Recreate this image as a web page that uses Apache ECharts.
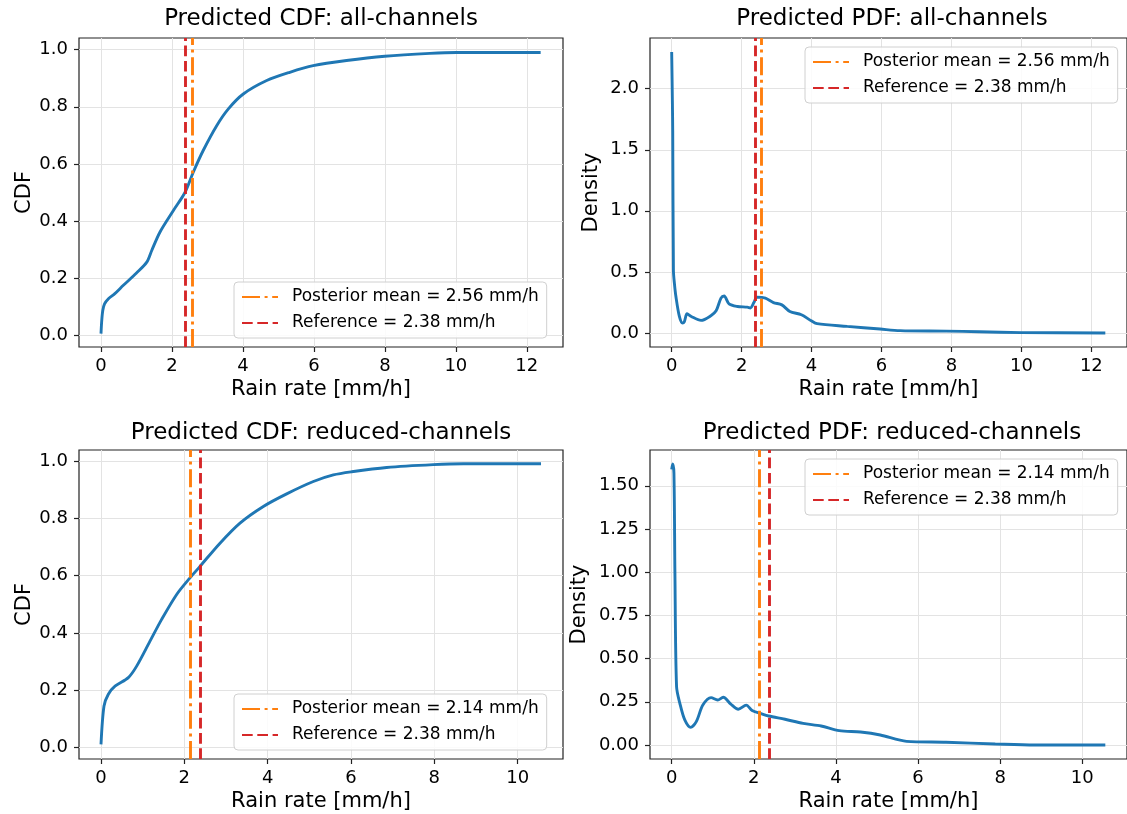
<!DOCTYPE html>
<html>
<head>
<meta charset="utf-8">
<script src="https://cdn.jsdelivr.net/npm/echarts@6/dist/echarts.min.js"></script>
<style>
  html, body { margin: 0; padding: 0; background: #fff; }
  #main { width: 1127px; height: 814px; }
</style>
</head>
<body>
<div id="main"></div>
<script>
// values (rain rate in mm/h)
const cdfAllX = [0, 0.02, 0.05, 0.1, 0.21, 0.39, 0.63, 1.0, 1.29, 1.43, 1.66, 2.04, 2.37, 2.6, 2.88, 3.26, 3.59, 4.01, 4.67, 5.32, 5.98, 6.92, 8.0, 9.27, 10.02, 12.39]
const cdfAllY = [0.006, 0.05, 0.087, 0.11, 0.128, 0.146, 0.175, 0.218, 0.256, 0.297, 0.361, 0.437, 0.501, 0.571, 0.647, 0.734, 0.793, 0.845, 0.892, 0.921, 0.944, 0.962, 0.977, 0.987, 0.99, 0.99]

const pdfAllX = [0, 0.02, 0.03, 0.05, 0.08, 0.12, 0.22, 0.31, 0.36, 0.44, 0.56, 0.84, 1.12, 1.27, 1.41, 1.5, 1.64, 1.88, 2.16, 2.25, 2.35, 2.44, 2.68, 2.91, 3.15, 3.38, 3.71, 3.99, 4.16, 5.02, 5.96, 6.53, 7.85, 8.79, 10.0, 12.4]
const pdfAllY = [2.30, 1.9, 1.65, 0.51, 0.40, 0.30, 0.135, 0.081, 0.09, 0.157, 0.135, 0.103, 0.141, 0.181, 0.285, 0.303, 0.238, 0.217, 0.211, 0.204, 0.249, 0.293, 0.285, 0.249, 0.23, 0.176, 0.149, 0.1, 0.076, 0.054, 0.032, 0.019, 0.015, 0.01, 0.003, 0.0]

const cdfRedX = [0, 0.072, 0.176, 0.336, 0.656, 0.856, 1.176, 1.456, 1.816, 2.136, 2.376, 2.856, 3.336, 3.896, 4.456, 5.096, 5.576, 6.016, 6.856, 7.976, 8.7, 10.56]
const cdfRedY = [0.011, 0.145, 0.186, 0.214, 0.244, 0.284, 0.371, 0.447, 0.534, 0.592, 0.632, 0.713, 0.783, 0.841, 0.885, 0.928, 0.951, 0.962, 0.977, 0.987, 0.99, 0.99]

const pdfRedX = [0, 0.024, 0.055, 0.079, 0.119, 0.199, 0.319, 0.463, 0.599, 0.759, 0.959, 1.12, 1.255, 1.44, 1.623, 1.815, 1.959, 2.159, 2.36, 2.76, 3.2, 3.64, 4.08, 4.6, 5.08, 5.72, 6.68, 7.88, 8.84, 10.56]
const pdfRedY = [1.595, 1.626, 1.572, 0.994, 0.337, 0.241, 0.145, 0.102, 0.135, 0.231, 0.274, 0.26, 0.276, 0.237, 0.207, 0.231, 0.199, 0.183, 0.168, 0.149, 0.125, 0.11, 0.083, 0.075, 0.058, 0.021, 0.016, 0.006, 0.0, 0.0]

const meanAll = 2.56
const meanRed = 2.14
const reference = 2.38

const titles = ['Predicted CDF: all-channels', 'Predicted PDF: all-channels', 'Predicted CDF: reduced-channels', 'Predicted PDF: reduced-channels']
const yNames = ['CDF', 'Density', 'CDF', 'Density']
const xTicksAll = [0, 2, 4, 6, 8, 10, 12]
const xTicksRed = [0, 2, 4, 6, 8, 10]
const cdfTicks = [0, 0.2, 0.4, 0.6, 0.8, 1.0]
const pdfAllTicks = [0, 0.5, 1.0, 1.5, 2.0]
const pdfRedTicks = [0, 0.25, 0.5, 0.75, 1.0, 1.25, 1.5]

const FONT = 'DejaVu Sans'
const BLUE = '#1f77b4', ORANGE = '#ff7f0e', RED = '#d62728'

function zip(xs, ys) {
    let out = []
    for (let i = 0; i < xs.length; i++) out.push([xs[i], ys[i]])
    return out
}

// panel boxes in px
const panels = [
    { left: 79, top: 38, xr: [-0.62, 13.02], yr: [-0.041, 1.041], xt: xTicksAll, yt: cdfTicks, dec: 1, gap: 44, legTop: 282, legLeft: 234 },
    { left: 650, top: 38, xr: [-0.62, 13.02], yr: [-0.115, 2.415], xt: xTicksAll, yt: pdfAllTicks, dec: 1, gap: 48, legTop: 47, legLeft: 805 },
    { left: 79, top: 450, xr: [-0.528, 11.088], yr: [-0.04, 1.038], xt: xTicksRed, yt: cdfTicks, dec: 1, gap: 44, legTop: 694, legLeft: 234 },
    { left: 650, top: 450, xr: [-0.528, 11.088], yr: [-0.081, 1.707], xt: xTicksRed, yt: pdfRedTicks, dec: 2, gap: 60, legTop: 459, legLeft: 805 }
]
const curves = [zip(cdfAllX, cdfAllY), zip(pdfAllX, pdfAllY), zip(cdfRedX, cdfRedY), zip(pdfRedX, pdfRedY)]
const means = [meanAll, meanAll, meanRed, meanRed]

let grid = [], xAxis = [], yAxis = [], series = [], legend = [], title = []

for (let i = 0; i < 4; i++) {
    const p = panels[i]
    grid.push({ left: p.left, top: p.top, width: 484, height: 309, show: true, borderColor: '#222', borderWidth: 1.2, backgroundColor: 'transparent' })
    title.push({
        text: titles[i], left: p.left + 242, top: p.top - (i < 2 ? 30 : 28), textAlign: 'center', padding: 0,
        textStyle: { fontFamily: FONT, fontSize: 23, fontWeight: 'normal', color: '#000' }
    })
    xAxis.push({
        type: 'value', gridIndex: i, min: p.xr[0], max: p.xr[1],
        name: 'Rain rate [mm/h]', nameLocation: 'middle', nameGap: 32,
        nameTextStyle: { fontFamily: FONT, fontSize: 21, color: '#000' },
        axisLine: { show: false, onZero: false },
        axisTick: { show: true, length: 5, lineStyle: { color: '#222', width: 1.2 }, customValues: p.xt },
        axisLabel: { fontFamily: FONT, fontSize: 18, color: '#000', margin: 10, customValues: p.xt },
        splitLine: { show: true, lineStyle: { color: '#e3e3e3', width: 1 } }
    })
    const dec = p.dec
    yAxis.push({
        type: 'value', gridIndex: i, min: p.yr[0], max: p.yr[1],
        name: yNames[i], nameLocation: 'middle', nameGap: p.gap,
        nameTextStyle: { fontFamily: FONT, fontSize: 21, color: '#000' },
        axisLine: { show: false, onZero: false },
        axisTick: { show: true, length: 5, lineStyle: { color: '#222', width: 1.2 }, customValues: p.yt },
        axisLabel: { fontFamily: FONT, fontSize: 18, color: '#000', margin: 11, customValues: p.yt, formatter: v => v.toFixed(dec) },
        splitLine: { show: true, lineStyle: { color: '#e3e3e3', width: 1 } }
    })
    const meanName = 'Posterior mean = ' + means[i].toFixed(2) + ' mm/h'
    const refName = 'Reference = ' + reference.toFixed(2) + ' mm/h'
    series.push({
        type: 'line', xAxisIndex: i, yAxisIndex: i, data: curves[i],
        showSymbol: false, symbol: 'none', smooth: 0.3,
        lineStyle: { color: BLUE, width: 2.9 }, itemStyle: { color: BLUE }, z: 3
    })
    series.push({
        type: 'line', name: meanName, xAxisIndex: i, yAxisIndex: i, data: [],
        symbol: 'none', lineStyle: { color: ORANGE, width: 2.9, type: [18, 4.6, 3, 4.6] }, itemStyle: { color: ORANGE },
        markLine: {
            silent: true, symbol: ['none', 'none'], label: { show: false }, animation: false,
            lineStyle: { color: ORANGE, width: 2.9, type: [18, 4.6, 3, 4.6] },
            data: [{ xAxis: means[i] }]
        }, z: 4
    })
    series.push({
        type: 'line', name: refName, xAxisIndex: i, yAxisIndex: i, data: [],
        symbol: 'none', lineStyle: { color: RED, width: 2.9, type: [10.7, 4.6] }, itemStyle: { color: RED },
        markLine: {
            silent: true, symbol: ['none', 'none'], label: { show: false }, animation: false,
            lineStyle: { color: RED, width: 2.9, type: [10.7, 4.6] },
            data: [{ xAxis: reference }]
        }, z: 4
    })
    legend.push({
        data: [meanName, refName], orient: 'vertical', left: p.legLeft, top: p.legTop,
        itemWidth: 36, itemHeight: 12, itemGap: 6, padding: [5, 8, 5, 7],
        backgroundColor: 'rgba(255,255,255,0.85)', borderColor: '#d0d0d0', borderWidth: 1, borderRadius: 4,
        itemStyle: { color: 'transparent', borderColor: 'transparent', borderWidth: 0 },
        textStyle: { fontFamily: FONT, fontSize: 17, color: '#000', lineHeight: 20, padding: [0, 0, 0, 9] },
        selectedMode: false
    })
}

let chartDom = document.getElementById('main')
let myChart = echarts.init(chartDom, null, { renderer: 'canvas' })
myChart.setOption({
    animation: false,
    backgroundColor: '#fff',
    title: title,
    grid: grid,
    xAxis: xAxis,
    yAxis: yAxis,
    legend: legend,
    series: series
})
</script>
</body>
</html>
